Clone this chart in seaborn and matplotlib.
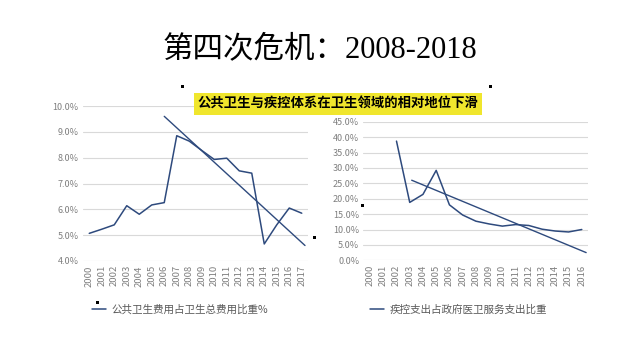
import numpy as np
import pandas as pd
import matplotlib
matplotlib.use("Agg")
import matplotlib.pyplot as plt
import seaborn as sns

# -----------------------------
# DATA
# -----------------------------
years_left = list(range(2000, 2018))
share_public = [5.07, 5.23, 5.40, 6.14, 5.81, 6.17, 6.26, 8.85, 8.64, 8.28,
                7.93, 7.98, 7.49, 7.40, 4.66, 5.40, 6.05, 5.85]
trend_left_x = [2006.0, 2017.26]
trend_left_y = [9.6, 4.6]

years_right = list(range(2000, 2017))
cdc_years = list(range(2002, 2017))
share_cdc = [38.7, 18.8, 21.4, 29.2, 18.0, 14.7, 12.7, 11.8, 11.1, 11.6,
             11.3, 10.1, 9.5, 9.2, 10.0]
trend_right_x = [2003.15, 2016.33]
trend_right_y = [26.0, 2.5]

label_left = "公共卫生费用占卫生总费用比重%"
label_right = "疾控支出占政府医卫服务支出比重"
title = "第四次危机：2008-2018"
banner = "公共卫生与疾控体系在卫生领域的相对地位下滑"

# -----------------------------
# STYLE
# -----------------------------
sns.set_theme(style="white")
plt.rcParams["font.family"] = ["Noto Sans CJK SC", "DejaVu Sans"]

line_color = "#2e4a7d"
grid_color = "#d9d9d9"
tick_color = "#7f7f7f"

fig = plt.figure(figsize=(6.4, 3.6), dpi=100)

df_left = pd.DataFrame({"year": years_left, "value": share_public})
df_right = pd.DataFrame({"year": cdc_years, "value": share_cdc})

# -----------------------------
# LEFT CHART
# -----------------------------
ax1 = fig.add_axes([83 / 640, 1 - 261 / 360, 225 / 640, 155 / 360])
sns.lineplot(data=df_left, x="year", y="value", ax=ax1, color=line_color,
             linewidth=1.1, label=label_left)
ax1.plot(trend_left_x, trend_left_y, color=line_color, linewidth=1.0)
ax1.set_xlim(1999.5, 2017.5)
ax1.set_ylim(4, 10)
ax1.set_yticks(np.arange(4, 10.01, 1))
ax1.set_yticklabels([f"{v:.1f}%" for v in np.arange(4, 10.01, 1)])
ax1.set_xticks(years_left)
ax1.set_xticklabels([str(y) for y in years_left], rotation=90)

# -----------------------------
# RIGHT CHART
# -----------------------------
ax2 = fig.add_axes([363.4 / 640, 1 - 260.3 / 360, 225 / 640, 138.6 / 360])
sns.lineplot(data=df_right, x="year", y="value", ax=ax2, color=line_color,
             linewidth=1.1, label=label_right)
ax2.plot(trend_right_x, trend_right_y, color=line_color, linewidth=1.0)
ax2.set_xlim(1999.5, 2016.5)
ax2.set_ylim(0, 45)
ax2.set_yticks(np.arange(0, 45.01, 5))
ax2.set_yticklabels([f"{v:.1f}%" for v in np.arange(0, 45.01, 5)])
ax2.set_xticks(years_right)
ax2.set_xticklabels([str(y) for y in years_right], rotation=90)

for ax in (ax1, ax2):
    for s in ax.spines.values():
        s.set_visible(False)
    ax.grid(axis="y", color=grid_color, linewidth=0.8)
    ax.set_axisbelow(True)
    ax.set_xlabel("")
    ax.set_ylabel("")
    ax.tick_params(axis="y", length=0, labelsize=6.5, labelcolor=tick_color, pad=3)
    ax.tick_params(axis="x", length=0, labelsize=6.8, labelcolor=tick_color, pad=3)

# legends below each chart
ax1.legend(loc="center left", bbox_to_anchor=(82 / 640, 1 - 310 / 360),
           bbox_transform=fig.transFigure, frameon=False, fontsize=7.6,
           handlelength=1.4, handletextpad=0.5, labelcolor="#595959")
ax2.legend(loc="center left", bbox_to_anchor=(360 / 640, 1 - 310 / 360),
           bbox_transform=fig.transFigure, frameon=False, fontsize=7.6,
           handlelength=1.4, handletextpad=0.5, labelcolor="#595959")

# -----------------------------
# TITLE + BANNER
# -----------------------------
fig.text(0.5, 1 - 50 / 360, title, ha="center", va="center", fontsize=22,
         color="black", fontweight="medium",
         family=["Liberation Serif", "Noto Sans CJK SC"])
fig.text(338 / 640, 1 - 104 / 360, banner, ha="center", va="center",
         fontsize=9.6, fontweight="bold", color="black",
         bbox=dict(boxstyle="square,pad=0.3", facecolor="#f0e62d", edgecolor="none"))

# selection handles seen in the slide screenshot
handles_x = [182, 490, 314, 362, 97]
handles_y = [86, 86, 237, 205, 302]
for hx, hy in zip(handles_x, handles_y):
    fig.patches.append(plt.Rectangle(((hx - 1.5) / 640, 1 - (hy + 1.5) / 360),
                                     3 / 640, 3 / 360, transform=fig.transFigure,
                                     facecolor="black", edgecolor="none"))

fig.savefig("out.png", dpi=100)
